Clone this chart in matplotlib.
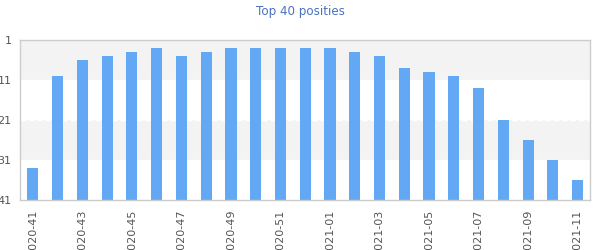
import matplotlib
matplotlib.use("Agg")
import matplotlib.pyplot as plt

weeks = [
    "2020-41", "2020-42", "2020-43", "2020-44", "2020-45", "2020-46",
    "2020-47", "2020-48", "2020-49", "2020-50", "2020-51", "2020-52",
    "2021-01", "2021-02", "2021-03", "2021-04", "2021-05", "2021-06",
    "2021-07", "2021-08", "2021-09", "2021-10", "2021-11",
]
positions = [33, 10, 6, 5, 4, 3, 5, 4, 3, 3, 3, 3, 3, 4, 5, 8, 9, 10, 13, 21, 26, 31, 36]
y_ticks = [1, 11, 21, 31, 41]

fig = plt.figure(figsize=(6, 2.5), dpi=100)
ax = fig.add_axes([20 / 600, 0.2, 570 / 600, 0.64])

# alternating bands
for i in range(len(y_ticks) - 1):
    if i % 2 == 0:
        ax.axhspan(y_ticks[i], y_ticks[i + 1], color="#f3f3f3", zorder=0, lw=0)
for t in y_ticks[1:-1]:
    ax.axhline(t, color="white", lw=1, ls=(0, (4, 2)), zorder=1)

x = range(len(weeks))
bottom = y_ticks[-1]
ax.bar(x, [p - bottom for p in positions], bottom=bottom, width=0.45,
       color="#62a8f4", zorder=2)

ax.set_ylim(41, 1)
ax.set_xlim(-0.52, len(weeks) - 0.5)
ax.set_yticks(y_ticks)
ax.set_yticklabels([str(t) for t in y_ticks])
ax.set_xticks(list(x)[::2])
ax.set_xticklabels(weeks[::2], rotation=90)
ax.tick_params(axis="both", length=0, colors="#555555", labelsize=8)
ax.tick_params(axis="y", pad=6)
ax.tick_params(axis="x", pad=7)

for s in ax.spines.values():
    s.set_color("#cccccc")
    s.set_linewidth(1)

fig.text(0.5, 1 - 11 / 250, "Top 40 posities", ha="center", va="center",
         fontsize=8.6, color="#4a72c0")

fig.savefig("out.png", dpi=100)
